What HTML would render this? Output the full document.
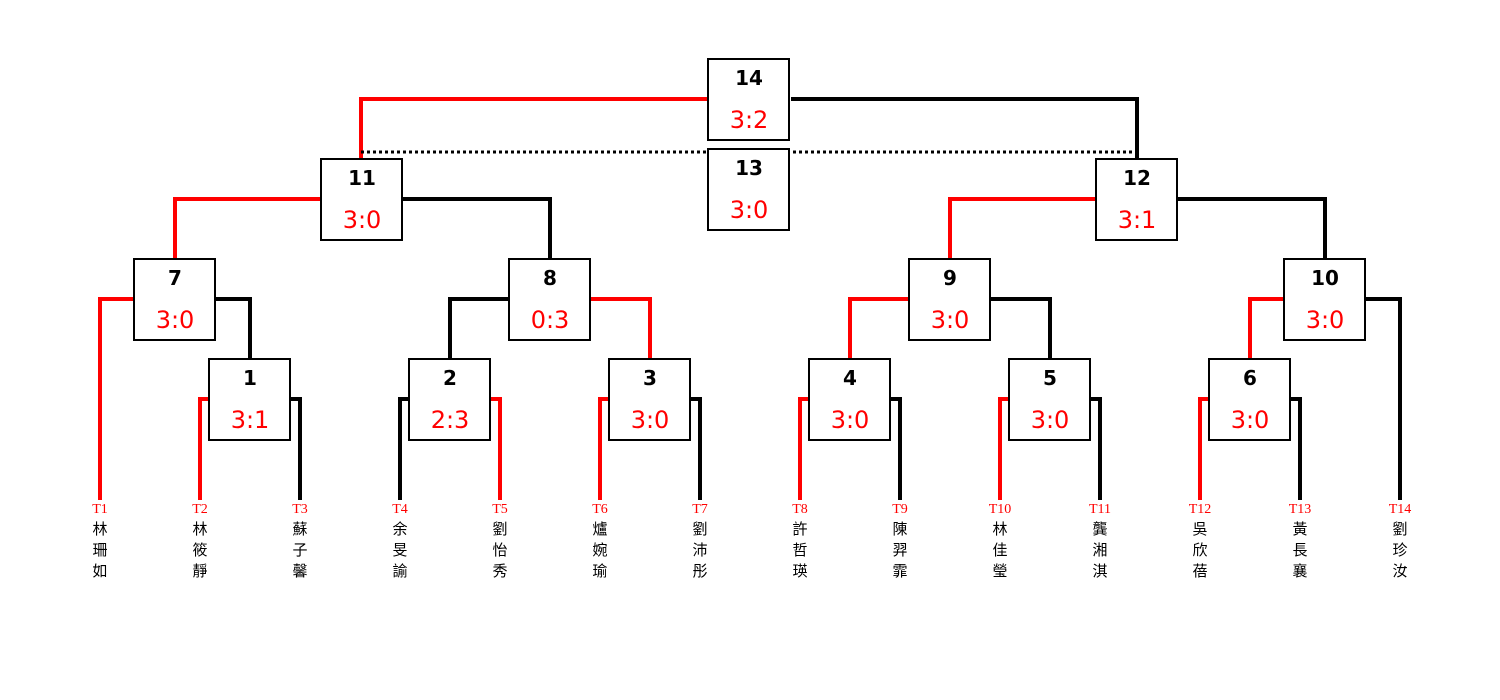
<!DOCTYPE html>
<html><head><meta charset="utf-8"><style>
html,body{margin:0;padding:0;background:#fff;width:1500px;height:700px;overflow:hidden}
svg{display:block}
.n{font-family:"DejaVu Sans","Liberation Sans",sans-serif;font-weight:bold;font-size:20px;fill:#000;text-anchor:middle}
.s{font-family:"DejaVu Sans","Liberation Sans",sans-serif;font-size:24px;fill:#f00;text-anchor:middle}
.t{font-family:"Liberation Serif",serif;font-size:14px;fill:#f00;text-anchor:middle}
.c{font-family:"Liberation Sans","Noto Sans CJK TC",sans-serif;font-size:15px;fill:#000;text-anchor:middle}
</style></head><body>
<svg width="1500" height="700" viewBox="0 0 1500 700" xmlns="http://www.w3.org/2000/svg">
<g fill="none" stroke-width="4" stroke-linejoin="miter" stroke-linecap="butt">
<path d="M707,99 H361 V158" stroke="#f00"/>
<path d="M791,99 H1137 V158" stroke="#000"/>
<path d="M361,152 H1137" stroke="#000" stroke-width="3" stroke-dasharray="3 3"/>
<path d="M320,199 H175 V258" stroke="#f00"/>
<path d="M403,199 H550 V258" stroke="#000"/>
<path d="M1095,199 H950 V258" stroke="#f00"/>
<path d="M1178,199 H1325 V258" stroke="#000"/>
<path d="M133,299 H100 V500" stroke="#f00"/>
<path d="M216,299 H250 V358" stroke="#000"/>
<path d="M508,299 H450 V358" stroke="#000"/>
<path d="M591,299 H650 V358" stroke="#f00"/>
<path d="M908,299 H850 V358" stroke="#f00"/>
<path d="M991,299 H1050 V358" stroke="#000"/>
<path d="M1283,299 H1250 V358" stroke="#f00"/>
<path d="M1366,299 H1400 V500" stroke="#000"/>
<path d="M208,399 H200 V500" stroke="#f00"/><path d="M291,399 H300 V500" stroke="#000"/>
<path d="M408,399 H400 V500" stroke="#000"/><path d="M491,399 H500 V500" stroke="#f00"/>
<path d="M608,399 H600 V500" stroke="#f00"/><path d="M691,399 H700 V500" stroke="#000"/>
<path d="M808,399 H800 V500" stroke="#f00"/><path d="M891,399 H900 V500" stroke="#000"/>
<path d="M1008,399 H1000 V500" stroke="#f00"/><path d="M1091,399 H1100 V500" stroke="#000"/>
<path d="M1208,399 H1200 V500" stroke="#f00"/><path d="M1291,399 H1300 V500" stroke="#000"/>
</g>
<g fill="#fff" stroke="#000" stroke-width="2">
<rect x="708" y="59" width="81" height="81"/>
<rect x="708" y="149" width="81" height="81"/>
<rect x="321" y="159" width="81" height="81"/>
<rect x="1096" y="159" width="81" height="81"/>
<rect x="134" y="259" width="81" height="81"/>
<rect x="509" y="259" width="81" height="81"/>
<rect x="909" y="259" width="81" height="81"/>
<rect x="1284" y="259" width="81" height="81"/>
<rect x="209" y="359" width="81" height="81"/>
<rect x="409" y="359" width="81" height="81"/>
<rect x="609" y="359" width="81" height="81"/>
<rect x="809" y="359" width="81" height="81"/>
<rect x="1009" y="359" width="81" height="81"/>
<rect x="1209" y="359" width="81" height="81"/>
</g>
<text class="n" x="749" y="85">14</text><text class="s" x="749" y="128">3:2</text>
<text class="n" x="749" y="175">13</text><text class="s" x="749" y="218">3:0</text>
<text class="n" x="362" y="185">11</text><text class="s" x="362" y="228">3:0</text>
<text class="n" x="1137" y="185">12</text><text class="s" x="1137" y="228">3:1</text>
<text class="n" x="175" y="285">7</text><text class="s" x="175" y="328">3:0</text>
<text class="n" x="550" y="285">8</text><text class="s" x="550" y="328">0:3</text>
<text class="n" x="950" y="285">9</text><text class="s" x="950" y="328">3:0</text>
<text class="n" x="1325" y="285">10</text><text class="s" x="1325" y="328">3:0</text>
<text class="n" x="250" y="385">1</text><text class="s" x="250" y="428">3:1</text>
<text class="n" x="450" y="385">2</text><text class="s" x="450" y="428">2:3</text>
<text class="n" x="650" y="385">3</text><text class="s" x="650" y="428">3:0</text>
<text class="n" x="850" y="385">4</text><text class="s" x="850" y="428">3:0</text>
<text class="n" x="1050" y="385">5</text><text class="s" x="1050" y="428">3:0</text>
<text class="n" x="1250" y="385">6</text><text class="s" x="1250" y="428">3:0</text>
<g class="t">
<text class="t" x="100" y="513">T1</text><text class="t" x="200" y="513">T2</text><text class="t" x="300" y="513">T3</text>
<text class="t" x="400" y="513">T4</text><text class="t" x="500" y="513">T5</text><text class="t" x="600" y="513">T6</text>
<text class="t" x="700" y="513">T7</text><text class="t" x="800" y="513">T8</text><text class="t" x="900" y="513">T9</text>
<text class="t" x="1000" y="513">T10</text><text class="t" x="1100" y="513">T11</text><text class="t" x="1200" y="513">T12</text>
<text class="t" x="1300" y="513">T13</text><text class="t" x="1400" y="513">T14</text>
</g>
<g>
<text class="c" x="100" y="534">林</text><text class="c" x="100" y="555">珊</text><text class="c" x="100" y="576">如</text>
<text class="c" x="200" y="534">林</text><text class="c" x="200" y="555">筱</text><text class="c" x="200" y="576">靜</text>
<text class="c" x="300" y="534">蘇</text><text class="c" x="300" y="555">子</text><text class="c" x="300" y="576">馨</text>
<text class="c" x="400" y="534">余</text><text class="c" x="400" y="555">旻</text><text class="c" x="400" y="576">諭</text>
<text class="c" x="500" y="534">劉</text><text class="c" x="500" y="555">怡</text><text class="c" x="500" y="576">秀</text>
<text class="c" x="600" y="534">爐</text><text class="c" x="600" y="555">婉</text><text class="c" x="600" y="576">瑜</text>
<text class="c" x="700" y="534">劉</text><text class="c" x="700" y="555">沛</text><text class="c" x="700" y="576">彤</text>
<text class="c" x="800" y="534">許</text><text class="c" x="800" y="555">哲</text><text class="c" x="800" y="576">瑛</text>
<text class="c" x="900" y="534">陳</text><text class="c" x="900" y="555">羿</text><text class="c" x="900" y="576">霏</text>
<text class="c" x="1000" y="534">林</text><text class="c" x="1000" y="555">佳</text><text class="c" x="1000" y="576">瑩</text>
<text class="c" x="1100" y="534">龔</text><text class="c" x="1100" y="555">湘</text><text class="c" x="1100" y="576">淇</text>
<text class="c" x="1200" y="534">吳</text><text class="c" x="1200" y="555">欣</text><text class="c" x="1200" y="576">蓓</text>
<text class="c" x="1300" y="534">黃</text><text class="c" x="1300" y="555">長</text><text class="c" x="1300" y="576">襄</text>
<text class="c" x="1400" y="534">劉</text><text class="c" x="1400" y="555">珍</text><text class="c" x="1400" y="576">汝</text>
</g>
</svg>
</body></html>
